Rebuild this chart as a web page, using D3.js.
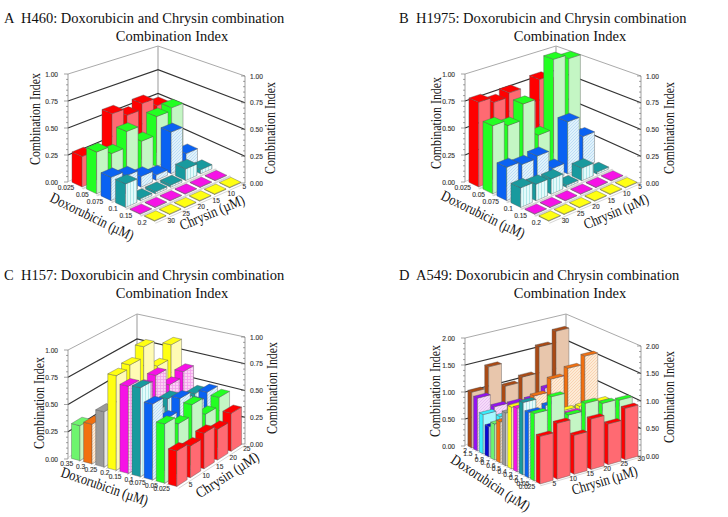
<!DOCTYPE html>
<html><head><meta charset="utf-8">
<script src="https://cdnjs.cloudflare.com/ajax/libs/d3/7.8.5/d3.min.js"></script>
<style>html,body{margin:0;background:#fff}svg{display:block}text{white-space:pre}</style></head>
<body><svg id="c" width="728" height="517"></svg>
<script>
// ---------- data ----------
const aRows=["0.025","0.05","0.075","0.1","0.15","0.2"];
const aCols=["30","25","20","15","10","5"];
const aRowColors=["red","green","blue","teal","magenta","yellow"];
const aValues=[
 [.28,.25,.57,.50,.56,.48],
 [.38,.31,.46,.31,.49,.52],
 [.21,.165,.10,.05,.40,.13],
 [.21,.02,.02,.02,.11,.04],
 [.005,.005,.005,.005,.005,.005],
 [.005,.005,.005,.005,.005,.005]];
const bRows=aRows, bCols=aCols, bRowColors=aRowColors;
const bValues=[
 [.78,.73,.77,.60,.80,.70],
 [.62,.57,.72,.37,1.05,1.01],
 [.30,.27,.29,.115,.50,.30],
 [.175,.15,.14,.02,.12,.02],
 [.005,.005,.005,.005,.005,.005],
 [.005,.005,.005,.005,.005,.005]];
const cRows=["0.35","0.3","0.25","0.2","0.15","0.1","0.075","0.05","0.025"];
const cCols=["5","10","15","20","25"];
const cRowColors=["lightgreen","orange","grey","yellow","magenta","teal","blue","green","red"];
const cValues=[
 [.32,null,null,null,null],
 [.36,null,null,null,null],
 [.50,null,null,null,null],
 [.85,.88,.98,.73,.86],
 [.78,.70,.74,.58,.63],
 [.79,.50,.55,.45,.45],
 [.67,.47,.58,.45,.49],
 [.52,.45,.55,.39,.47],
 [.31,.28,.32,.28,.35]];
const dRows=["2","1.5","1","0.8","0.7","0.6","0.5","0.4","0.3","0.2","0.1","0.05","0.025"];
const dCols=["5","10","15","20","25","30"];
const dRowColors=["brown","purple","cyan","navy","lightgreen","orange","grey","yellow","magenta","teal","blue","green","red"];
const dValues=[
 [1.03,1.42,.98,1.07,1.56,1.78],
 [.97,.73,.70,.70,.83,.93],
 [.72,.60,.60,.60,.60,.60],
 [.55,.50,.50,.50,.50,.50],
 [.65,.55,.55,.55,.55,.55],
 [.74,.80,1.05,1.28,1.40,1.55],
 [.95,.70,.70,.70,.70,.70],
 [1.10,.80,.80,.80,.80,.80],
 [1.13,.85,.80,.80,.80,.80],
 [1.28,1.00,.85,.80,.80,.80],
 [1.15,1.20,.90,.85,.85,.85],
 [1.18,1.40,1.00,1.13,1.05,1.03],
 [.83,.98,.69,.90,.73,.93]];
const zTicksUnit=[0,.25,.5,.75,1];
const zTicksDouble=[0,.5,1,1.5,2];

// ---------- styles ----------
const palette={
 red:{c:"#ff0000",p:"#ff6a72",k:"none",s:"#ff6a72"},
 green:{c:"#22ff22",p:"#c4f6c4",k:"none",s:"#c4f6c4"},
 blue:{c:"#0a62f2",p:"#e0f2fb",k:"diag",s:"#b4d8f4"},
 teal:{c:"#189a9e",p:"#e4fafa",k:"vert",s:"#a4e2e4"},
 magenta:{c:"#f612e6",p:"#fcd0f6",k:"grid",s:"#f4a0ec"},
 yellow:{c:"#ffff12",p:"#fffbb4",k:"none",s:"#fffbb4"},
 lightgreen:{c:"#6ef56e",p:"#c8f4c0",k:"none",s:"#c8f4c0"},
 orange:{c:"#f27010",p:"#fdebd6",k:"diag",s:"#f8cda8"},
 grey:{c:"#9a9a9a",p:"#e6e6e6",k:"none",s:"#e6e6e6"},
 brown:{c:"#aa4a14",p:"#e8c6ac",k:"none",s:"#e8c6ac"},
 purple:{c:"#9412f2",p:"#f6dafa",k:"diag",s:"#e4bcf0"},
 cyan:{c:"#38eefc",p:"#a6f8ff",k:"none",s:"#a6f8ff"},
 navy:{c:"#0808d2",p:"#b8c8f8",k:"none",s:"#b8c8f8"}
};
const panels=[
 {title:"A  H460: Doxorubicin and Chrysin combination",tx:4,ty:23,cx:172,cy:41,rows:aRows,cols:aCols,colors:aRowColors,values:aValues,ticks:zTicksUnit,
  L:[68,182,108],B:[158,141,95],R:[245,183,107],F:[155,223,115],lt:[40,119],rt:[275,128],dox:[90,221,26,91],chr:[214,217,-23,69]},
 {title:"B  H1975: Doxorubicin and Chrysin combination",tx:399,ty:23,cx:570,cy:41,rows:bRows,cols:bCols,colors:bRowColors,values:bValues,ticks:zTicksUnit,
  L:[465,182,108],B:[556,142,96],R:[641,183,107],F:[549,223,115],lt:[441,123],rt:[674,128],dox:[481,219,26,91],chr:[618,216,-23,69]},
 {title:"C  H157: Doxorubicin and Chrysin combination",tx:4,ty:280,cx:172,cy:298,rows:cRows,cols:cCols,colors:cRowColors,values:cValues,ticks:zTicksUnit,
  L:[68,459,109],B:[137,414,100],R:[245,444,107],F:[177,488,115],lt:[44,403],rt:[277,388],dox:[103,491,19,91],chr:[230,479,-33,72]},
 {title:"D  A549: Doxorubicin and Chrysin combination",tx:399,ty:280,cx:570,cy:298,rows:dRows,cols:dCols,colors:dRowColors,values:dValues,ticks:zTicksDouble,
  L:[465,446,108],B:[566,418,104],R:[641,456,110],F:[539,485,115],lt:[440,391],rt:[674,397],dox:[488,487,33,91],chr:[606,485,-17,68]}
];

// ---------- drawing ----------
const svg=d3.select("#c");
const defs=svg.append("defs");
Object.entries(palette).forEach(([name,st])=>{
  const pat=defs.append("pattern").attr("id","pat-"+name).attr("patternUnits","userSpaceOnUse").attr("width",3).attr("height",3);
  pat.append("rect").attr("width",3).attr("height",3).attr("fill",st.p);
  const d=st.k==="diag"?"M0,3L3,0":st.k==="vert"?"M1.5,0V3":st.k==="grid"?"M0,1.5H3M1.5,0V3":null;
  if(d)pat.append("path").attr("d",d).attr("stroke",st.s).attr("stroke-width",.8).attr("fill","none");
});
const serif="'Liberation Serif','Times New Roman',serif";
const sans="'Liberation Sans',Arial,sans-serif";
const text=(g,x,y,s,size,fam,anchor,rot,len)=>{
  const t=g.append("text").text(s).attr("font-family",fam).attr("font-size",size)
  .attr("fill","#111").attr("text-anchor",anchor||"start").attr("transform",`translate(${x},${y})`+(rot?` rotate(${rot})`:""));
  if(len)t.attr("textLength",len).attr("lengthAdjust","spacingAndGlyphs");
  return t;};
const tickText=(g,x,y,s,anchor)=>text(g,x,y,s,6.6,sans,anchor).attr("fill","#333").attr("stroke","#333").attr("stroke-width",.12);

panels.forEach(P=>{
  const g=svg.append("g");
  const near=d3.scaleLinear([0,1],[P.L,P.F]);
  const far=d3.scaleLinear([0,1],[P.B,P.R]);
  const z=d3.scaleLinear([0,d3.max(P.ticks)],[0,1]);
  const pt=(u,v,val)=>{const a=near(u),b=far(u);const q=d3.scaleLinear([0,1],[a,b])(v);return [q[0],q[1]-q[2]*z(val)];};
  const rowB=d3.scaleBand(P.rows,[0,1]).paddingInner(.3).paddingOuter(.15);
  const colB=d3.scaleBand(P.cols,[0,1]).paddingInner(.24).paddingOuter(.12);
  const line=d3.line();
  text(g,P.tx,P.ty,P.title,14.5,serif);
  text(g,P.cx,P.cy,"Combination Index",14.5,serif,"middle");
  // walls
  const top=P.ticks[P.ticks.length-1];
  g.append("path").attr("d",line([pt(0,1,0),pt(0,1,top)])).attr("stroke","#999").attr("fill","none");
  P.ticks.slice(1).forEach(t=>{
    const isTop=t===top;
    g.append("path").attr("d",line([pt(0,0,t),pt(0,1,t),pt(1,1,t)]))
     .attr("fill","none").attr("stroke",isTop?"#aaa":"#333").attr("stroke-width",isTop?1:1.2);
  });
  // vertical axes with ticks
  [[0,0,-1,"end"],[1,1,1,"start"]].forEach(([u,v,dir,anc])=>{
    g.append("path").attr("d",line([pt(u,v,0),pt(u,v,top)])).attr("stroke","#777").attr("fill","none").attr("stroke-width",.7);
    const step=(P.ticks[1]-P.ticks[0])/5;
    d3.range(0,top+step/2,step).forEach((t,i)=>{
      const q=pt(u,v,t),major=i%5===0;
      g.append("path").attr("d",line([q,[q[0]-(major?4:2),q[1]]])).attr("stroke","#666").attr("stroke-width",.6);
    });
    P.ticks.forEach(t=>{
      const q=pt(u,v,t);
      tickText(g,q[0]+(dir<0?-10:5),q[1]+2.5,t.toFixed(2),anc);
    });
  });
  // floor strips
  P.rows.forEach(r=>{
    [rowB(r)-.03,rowB(r)+rowB.bandwidth()+.03].forEach(u=>{
      g.append("path").attr("d",line([pt(u,0,0),pt(u,1,0)])).attr("stroke","#bbb").attr("stroke-width",.6).attr("fill","none");
    });
  });
  // bars: back rows first, far columns first
  P.rows.forEach((r,i)=>{
    const st=palette[P.colors[i]];
    const u0=rowB(r),u1=u0+rowB.bandwidth();
    for(let j=P.cols.length-1;j>=0;j--){
      const val=P.values[i][j];
      if(val===null)continue;
      const v0=colB(P.cols[j]),v1=v0+colB.bandwidth();
      const faces=[
        {d:[pt(u0,v0,0),pt(u1,v0,0),pt(u1,v0,val),pt(u0,v0,val)],f:st.c},
        {d:[pt(u1,v0,0),pt(u1,v1,0),pt(u1,v1,val),pt(u1,v0,val)],f:`url(#pat-${P.colors[i]})`},
        {d:[pt(u0,v0,val),pt(u1,v0,val),pt(u1,v1,val),pt(u0,v1,val)],f:st.c}
      ];
      faces.forEach(fc=>g.append("path").attr("d",line(fc.d)+"Z").attr("fill",fc.f).attr("stroke","#555").attr("stroke-width",.4));
    }
  });
  // category labels
  P.rows.forEach(r=>{
    const q=pt(rowB(r)+rowB.bandwidth()/2,0,0);
    tickText(g,q[0]-1,q[1]+5,r,"end");
  });
  P.cols.forEach(c=>{
    const q=pt(1,colB(c)+colB.bandwidth()/2,0);
    tickText(g,q[0]+5,q[1]+3,c,"start");
  });
  // axis titles
  text(g,P.lt[0],P.lt[1],"Combination Index",14.5,serif,"middle",-90,92);
  text(g,P.rt[0],P.rt[1],"Combination Index",14.5,serif,"middle",-90,92);
  text(g,P.dox[0],P.dox[1],"Doxorubicin (µM)",15,serif,"middle",P.dox[2],P.dox[3]);
  text(g,P.chr[0],P.chr[1],"Chrysin (µM)",15,serif,"middle",P.chr[2],P.chr[3]);
});
</script></body></html>
